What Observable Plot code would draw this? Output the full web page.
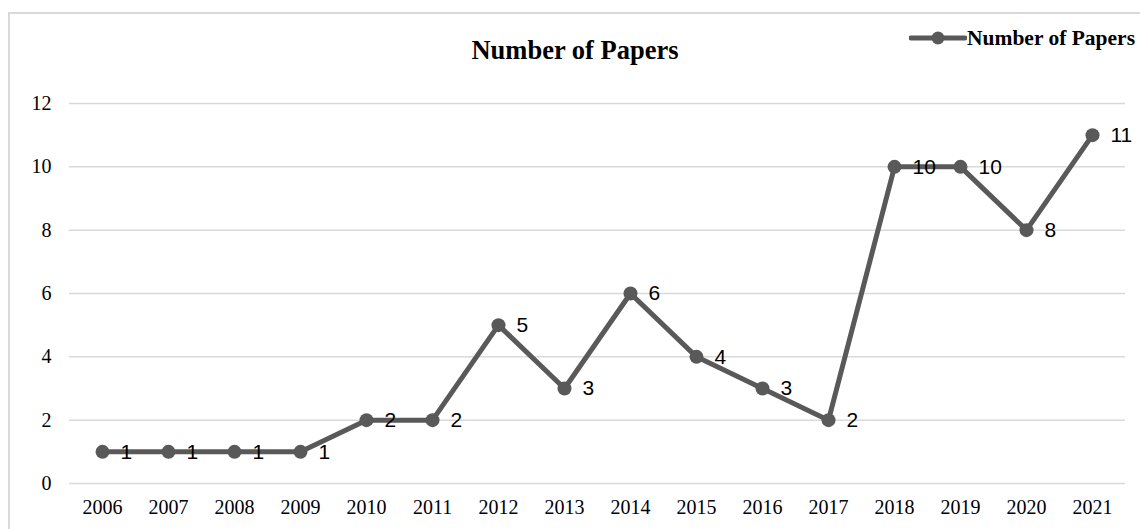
<!DOCTYPE html>
<html>
<head>
<meta charset="utf-8">
<script src="https://cdn.jsdelivr.net/npm/d3@7"></script>
<script src="https://cdn.jsdelivr.net/npm/@observablehq/plot@0.6"></script>
<style>
  html, body { margin: 0; padding: 0; background: #fff; width: 1140px; height: 529px; overflow: hidden; }
  #frame { position: absolute; left: 8px; top: 12px; width: 1160px; height: 560px; border: 2px solid #d9d9d9; box-sizing: border-box; }
  #title { position: absolute; left: 5px; top: 34px; width: 1140px; height: 32px; line-height: 32px; text-align: center;
           font-family: "Liberation Serif", "Times New Roman", serif; font-weight: bold; font-size: 26.5px; color: #000; }
  #legend { position: absolute; left: 909px; top: 26px; height: 24px; display: flex; align-items: center;
            font-family: "Liberation Serif", "Times New Roman", serif; font-weight: bold; font-size: 21.5px; color: #000; white-space: nowrap; }
  #chart { position: absolute; left: 0; top: 80px; }
</style>
</head>
<body>
<div id="frame"></div>
<div id="title">Number of Papers</div>
<div id="legend">
  <svg width="58" height="24"><line x1="2" y1="12" x2="56" y2="12" stroke="#595959" stroke-width="5" stroke-linecap="round"/><circle cx="29" cy="12" r="6.5" fill="#595959"/></svg>
  <span>Number of Papers</span>
</div>
<div id="chart"></div>
<script>
const years = ["2006","2007","2008","2009","2010","2011","2012","2013","2014","2015","2016","2017","2018","2019","2020","2021"];
const papers = [1,1,1,1,2,2,5,3,6,4,3,2,10,10,8,11];
const yTicks = [0,2,4,6,8,10,12];
const seriesName = "Number of Papers";

const data = years.map((y, i) => ({year: y, value: papers[i]}));
const color = "#595959";

const chart = Plot.plot({
  width: 1140,
  height: 449,
  marginLeft: 69,
  marginRight: 15,
  marginTop: 23,
  marginBottom: 46,
  style: {fontFamily: "'Liberation Serif', 'Times New Roman', serif", fontSize: "20px", color: "#000", background: "transparent", overflow: "visible"},
  x: {type: "band", domain: years, padding: 0, label: null},
  y: {domain: [0, 12], ticks: yTicks, label: null},
  marks: [
    Plot.gridY(yTicks, {stroke: "#d9d9d9", strokeOpacity: 1, strokeWidth: 1.5}),
    Plot.axisY({ticks: yTicks, tickSize: 0, tickPadding: 18, label: null, fontSize: 20}),
    Plot.axisX({tickSize: 0, tickPadding: 16, label: null, fontSize: 20}),
    Plot.line(data, {x: "year", y: "value", stroke: color, strokeWidth: 5, strokeLinejoin: "round", strokeLinecap: "round"}),
    Plot.dot(data, {x: "year", y: "value", r: 7, fill: color, stroke: "none"}),
    Plot.text(data, {x: "year", y: "value", text: d => String(d.value), dx: 18, textAnchor: "start",
      fontSize: 21, fontFamily: "'Liberation Sans', Arial, sans-serif", fill: "#000"})
  ]
});
document.getElementById("chart").appendChild(chart);
</script>
</body>
</html>
